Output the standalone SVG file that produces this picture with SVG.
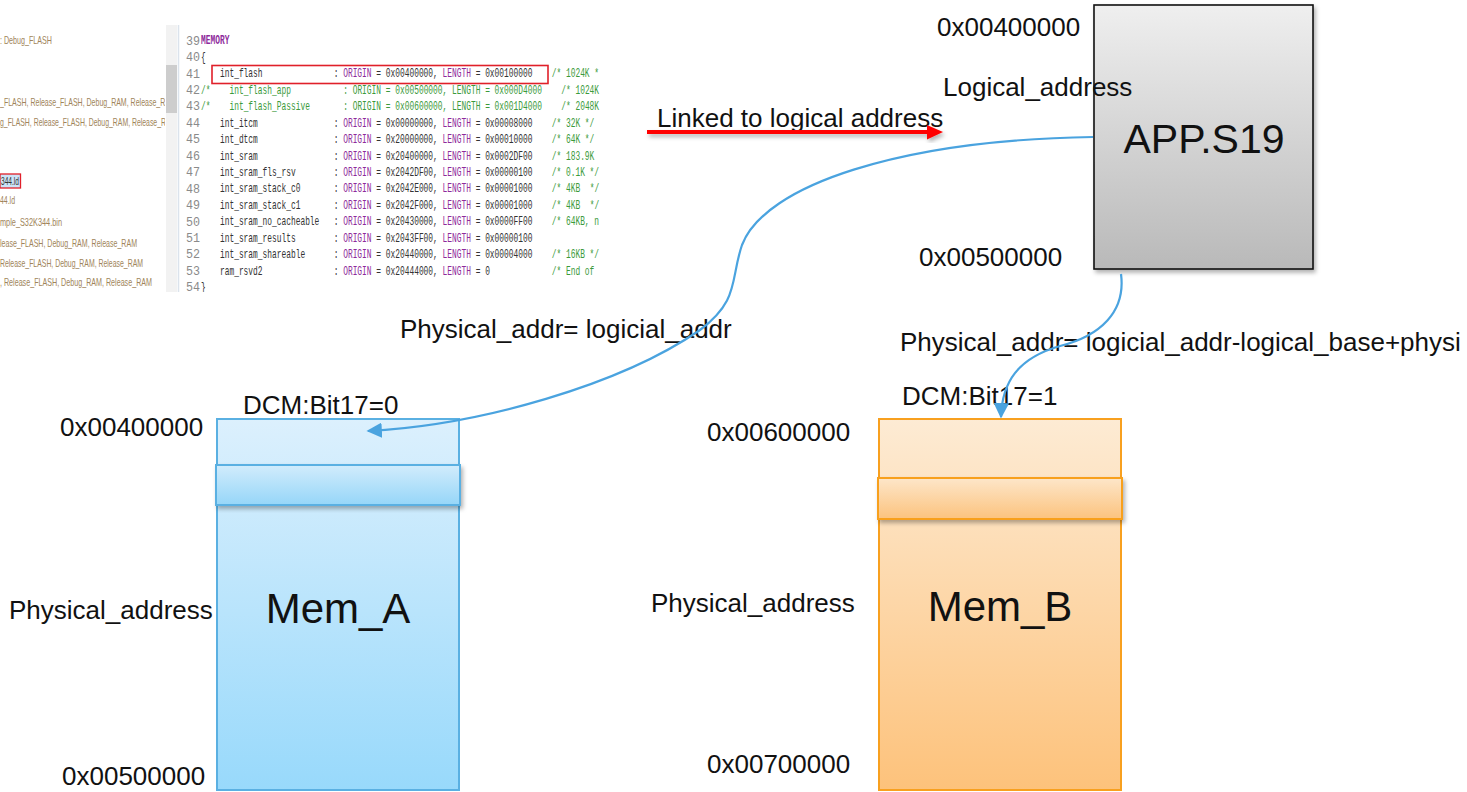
<svg xmlns="http://www.w3.org/2000/svg" width="1467" height="792" viewBox="0 0 1467 792">
<style>
.t{font-family:"Liberation Sans",Arial,sans-serif;font-size:26px;fill:#111}
.big{font-family:"Liberation Sans",Arial,sans-serif;font-size:41px;fill:#111;text-anchor:middle}
.lp{font-family:"Liberation Sans",Arial,sans-serif;font-size:11px;fill:#a0845a}
.ln{font-family:"Liberation Mono","DejaVu Sans Mono",monospace;font-size:12px;fill:#8a8a8a}
.c{font-family:"Liberation Mono","DejaVu Sans Mono",monospace;font-size:12px;fill:#333}
.k{fill:#8e2a9b}
.g{fill:#3b9a3b}
.conn{fill:none;stroke:#4aa3df;stroke-width:2.2}
</style>
<defs>
<linearGradient id="gApp" x1="0" y1="0" x2="0" y2="1"><stop offset="0" stop-color="#efefef"/><stop offset="1" stop-color="#b9b9b9"/></linearGradient>
<linearGradient id="gA" x1="0" y1="0" x2="0" y2="1"><stop offset="0" stop-color="#dcf0fd"/><stop offset="1" stop-color="#98d9fb"/></linearGradient>
<linearGradient id="gAb" x1="0" y1="0" x2="0" y2="1"><stop offset="0" stop-color="#d2ecfc"/><stop offset="1" stop-color="#96d6f8"/></linearGradient>
<linearGradient id="gB" x1="0" y1="0" x2="0" y2="1"><stop offset="0" stop-color="#fdebd4"/><stop offset="1" stop-color="#fdc27b"/></linearGradient>
<linearGradient id="gBb" x1="0" y1="0" x2="0" y2="1"><stop offset="0" stop-color="#fde6c9"/><stop offset="1" stop-color="#fcc37e"/></linearGradient>
<filter id="sh" x="-10%" y="-10%" width="130%" height="130%"><feDropShadow dx="2" dy="3" stdDeviation="2" flood-color="#000" flood-opacity="0.3"/></filter>
<marker id="ab" viewBox="0 0 10 10" refX="9" refY="5" markerWidth="7" markerHeight="7" orient="auto" markerUnits="strokeWidth"><path d="M0,0 L10,5 L0,10 z" fill="#4aa3df"/></marker>
<clipPath id="shot"><rect x="0" y="25" width="600" height="267"/></clipPath>
<clipPath id="lpane"><rect x="0" y="25" width="165" height="267"/></clipPath>
</defs>

<g id="screenshot" clip-path="url(#shot)">
  <rect x="0" y="25" width="600" height="267" fill="#fff"/>
  <rect x="166" y="25" width="11" height="267" fill="#f2f2f2"/>
  <rect x="166" y="65" width="11" height="48" fill="#cdcdcd"/>
  <line x1="178.5" y1="25" x2="178.5" y2="292" stroke="#dbe3ec" stroke-width="1.5"/>
  <g clip-path="url(#lpane)">
    <text class="lp" x="0" y="44" textLength="52" lengthAdjust="spacingAndGlyphs">: Debug_FLASH</text>
    <text class="lp" x="0" y="105.5" textLength="170" lengthAdjust="spacingAndGlyphs">_FLASH, Release_FLASH, Debug_RAM, Release_RA</text>
    <text class="lp" x="0" y="125.5" textLength="166" lengthAdjust="spacingAndGlyphs">g_FLASH, Release_FLASH, Debug_RAM, Release_R</text>
    <rect x="0" y="174" width="20.5" height="14" fill="#cce4f7" stroke="#e0202a" stroke-width="1.3"/>
    <text class="lp" x="1" y="185" textLength="18" lengthAdjust="spacingAndGlyphs" style="fill:#333">344.ld</text>
    <text class="lp" x="0" y="204" textLength="15" lengthAdjust="spacingAndGlyphs">44.ld</text>
    <text class="lp" x="0" y="226" textLength="62" lengthAdjust="spacingAndGlyphs">mple_S32K344.bin</text>
    <text class="lp" x="0" y="247" textLength="137" lengthAdjust="spacingAndGlyphs">lease_FLASH, Debug_RAM, Release_RAM</text>
    <text class="lp" x="0" y="267" textLength="143" lengthAdjust="spacingAndGlyphs">Release_FLASH, Debug_RAM, Release_RAM</text>
    <text class="lp" x="0" y="286" textLength="152" lengthAdjust="spacingAndGlyphs">, Release_FLASH, Debug_RAM, Release_RAM</text>
  </g>
  <g id="linenos">
    <text class="ln" x="186" y="44.5" textLength="14" lengthAdjust="spacingAndGlyphs">39</text>
    <text class="ln" x="186" y="61" textLength="14" lengthAdjust="spacingAndGlyphs">40</text>
    <text class="ln" x="186" y="77.5" textLength="14" lengthAdjust="spacingAndGlyphs">41</text>
    <text class="ln" x="186" y="93.9" textLength="14" lengthAdjust="spacingAndGlyphs">42</text>
    <text class="ln" x="186" y="110.3" textLength="14" lengthAdjust="spacingAndGlyphs">43</text>
    <text class="ln" x="186" y="126.8" textLength="14" lengthAdjust="spacingAndGlyphs">44</text>
    <text class="ln" x="186" y="143.2" textLength="14" lengthAdjust="spacingAndGlyphs">45</text>
    <text class="ln" x="186" y="159.7" textLength="14" lengthAdjust="spacingAndGlyphs">46</text>
    <text class="ln" x="186" y="176.1" textLength="14" lengthAdjust="spacingAndGlyphs">47</text>
    <text class="ln" x="186" y="192.5" textLength="14" lengthAdjust="spacingAndGlyphs">48</text>
    <text class="ln" x="186" y="209" textLength="14" lengthAdjust="spacingAndGlyphs">49</text>
    <text class="ln" x="186" y="225.5" textLength="14" lengthAdjust="spacingAndGlyphs">50</text>
    <text class="ln" x="186" y="241.9" textLength="14" lengthAdjust="spacingAndGlyphs">51</text>
    <text class="ln" x="186" y="258.4" textLength="14" lengthAdjust="spacingAndGlyphs">52</text>
    <text class="ln" x="186" y="274.8" textLength="14" lengthAdjust="spacingAndGlyphs">53</text>
    <text class="ln" x="186" y="291.3" textLength="14" lengthAdjust="spacingAndGlyphs">54</text>
  </g>
  <g id="code" transform="scale(0.6583,1)">
    <text class="c" y="44.5"><tspan x="305.33" class="k" font-weight="bold">MEMORY</tspan></text>
    <text class="c" y="61"><tspan x="305.33">{</tspan></text>
    <text class="c" y="77.5"><tspan x="334.13">int_flash</tspan><tspan x="506.93">: <tspan class="k">ORIGIN</tspan> = 0x00400000, <tspan class="k">LENGTH</tspan> = 0x00100000</tspan><tspan x="838.13" class="g">/* 1024K *</tspan></text>
    <text class="c g" y="93.9"><tspan x="305.33">/*</tspan><tspan x="348.53">int_flash_app</tspan><tspan x="521.33">: ORIGIN = 0x00500000, LENGTH = 0x000D4000</tspan><tspan x="852.53">/* 1024K</tspan></text>
    <text class="c g" y="110.3"><tspan x="305.33">/*</tspan><tspan x="348.53">int_flash_Passive</tspan><tspan x="521.33">: ORIGIN = 0x00600000, LENGTH = 0x001D4000</tspan><tspan x="852.53">/* 2048K</tspan></text>
    <text class="c" y="126.8"><tspan x="334.13">int_itcm</tspan><tspan x="506.93">: <tspan class="k">ORIGIN</tspan> = 0x00000000, <tspan class="k">LENGTH</tspan> = 0x00008000</tspan><tspan x="838.13" class="g">/* 32K */</tspan></text>
    <text class="c" y="143.2"><tspan x="334.13">int_dtcm</tspan><tspan x="506.93">: <tspan class="k">ORIGIN</tspan> = 0x20000000, <tspan class="k">LENGTH</tspan> = 0x00010000</tspan><tspan x="838.13" class="g">/* 64K */</tspan></text>
    <text class="c" y="159.7"><tspan x="334.13">int_sram</tspan><tspan x="506.93">: <tspan class="k">ORIGIN</tspan> = 0x20400000, <tspan class="k">LENGTH</tspan> = 0x0002DF00</tspan><tspan x="838.13" class="g">/* 183.9K</tspan></text>
    <text class="c" y="176.1"><tspan x="334.13">int_sram_fls_rsv</tspan><tspan x="506.93">: <tspan class="k">ORIGIN</tspan> = 0x2042DF00, <tspan class="k">LENGTH</tspan> = 0x00000100</tspan><tspan x="838.13" class="g">/* 0.1K */</tspan></text>
    <text class="c" y="192.5"><tspan x="334.13">int_sram_stack_c0</tspan><tspan x="506.93">: <tspan class="k">ORIGIN</tspan> = 0x2042E000, <tspan class="k">LENGTH</tspan> = 0x00001000</tspan><tspan x="838.13" class="g">/* 4KB</tspan><tspan x="895.73" class="g">*/</tspan></text>
    <text class="c" y="209"><tspan x="334.13">int_sram_stack_c1</tspan><tspan x="506.93">: <tspan class="k">ORIGIN</tspan> = 0x2042F000, <tspan class="k">LENGTH</tspan> = 0x00001000</tspan><tspan x="838.13" class="g">/* 4KB</tspan><tspan x="895.73" class="g">*/</tspan></text>
    <text class="c" y="225.5"><tspan x="334.13">int_sram_no_cacheable</tspan><tspan x="506.93">: <tspan class="k">ORIGIN</tspan> = 0x20430000, <tspan class="k">LENGTH</tspan> = 0x0000FF00</tspan><tspan x="838.13" class="g">/* 64KB, n</tspan></text>
    <text class="c" y="241.9"><tspan x="334.13">int_sram_results</tspan><tspan x="506.93">: <tspan class="k">ORIGIN</tspan> = 0x2043FF00, <tspan class="k">LENGTH</tspan> = 0x00000100</tspan></text>
    <text class="c" y="258.4"><tspan x="334.13">int_sram_shareable</tspan><tspan x="506.93">: <tspan class="k">ORIGIN</tspan> = 0x20440000, <tspan class="k">LENGTH</tspan> = 0x00004000</tspan><tspan x="838.13" class="g">/* 16KB */</tspan></text>
    <text class="c" y="274.8"><tspan x="334.13">ram_rsvd2</tspan><tspan x="506.93">: <tspan class="k">ORIGIN</tspan> = 0x20444000, <tspan class="k">LENGTH</tspan> = 0</tspan><tspan x="838.13" class="g">/* End of</tspan></text>
    <text class="c" y="291.3"><tspan x="305.33">}</tspan></text>
  </g>
  <rect x="212" y="65.5" width="336" height="18" fill="none" stroke="#e0202a" stroke-width="1.6"/>
</g>

<g id="app">
  <rect x="1094" y="5" width="219" height="264" fill="url(#gApp)" stroke="#111" stroke-width="1.6" filter="url(#sh)"/>
  <text class="big" x="1204" y="153">APP.S19</text>
</g>

<g id="memA">
  <rect x="217" y="419" width="242" height="371" fill="url(#gA)" stroke="#5ab0e2" stroke-width="2"/>
  <rect x="216" y="465" width="244" height="40" fill="url(#gAb)" stroke="#5ab0e2" stroke-width="2" filter="url(#sh)"/>
  <text class="big" x="338" y="623" style="font-size:42px">Mem_A</text>
</g>

<g id="memB">
  <rect x="879" y="419" width="242" height="371" fill="url(#gB)" stroke="#f8a01f" stroke-width="2"/>
  <rect x="878" y="478" width="244" height="41" fill="url(#gBb)" stroke="#f8a01f" stroke-width="2" filter="url(#sh)"/>
  <text class="big" x="1000" y="621" style="font-size:42px">Mem_B</text>
</g>

<g id="labels">
  <text class="t" x="937" y="36">0x00400000</text>
  <text class="t" x="943" y="96">Logical_address</text>
  <text class="t" x="657" y="127">Linked to logical address</text>
  <text class="t" x="919" y="266">0x00500000</text>
  <text class="t" x="400" y="338">Physical_addr= logicial_addr</text>
  <text class="t" x="900" y="351">Physical_addr= logicial_addr-logical_base+physi</text>
  <text class="t" x="243" y="414">DCM:Bit17=0</text>
  <text class="t" x="902" y="405">DCM:Bit17=1</text>
  <text class="t" x="60" y="436">0x00400000</text>
  <text class="t" x="707" y="441">0x00600000</text>
  <text class="t" x="9" y="619">Physical_address</text>
  <text class="t" x="651" y="612">Physical_address</text>
  <text class="t" x="62" y="785">0x00500000</text>
  <text class="t" x="707" y="773">0x00700000</text>
</g>

<g id="connectors">
  <g filter="url(#sh)">
    <line x1="647" y1="132" x2="929" y2="132" stroke="#ff0000" stroke-width="4"/>
    <polygon points="927,125 943,132 927,139.5" fill="#ff0000"/>
  </g>
  <path class="conn" d="M1093,137 C 900,140 765,185 742,245 C 730,280 740,300 700,330 C 620,385 480,425 368,431" marker-end="url(#ab)"/>
  <path class="conn" d="M1121,274 C 1126,312 1100,336 1060,346 C 1018,358 1002,382 1001,417" marker-end="url(#ab)"/>
</g>
</svg>
